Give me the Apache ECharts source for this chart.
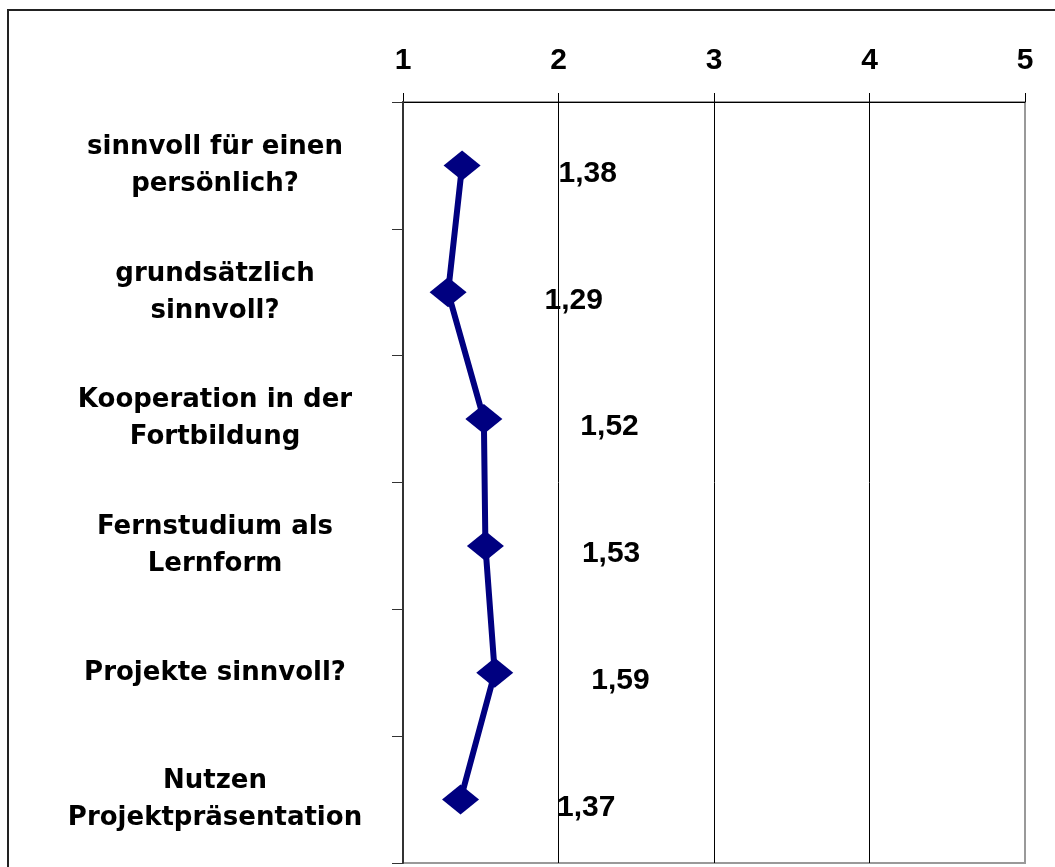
<!DOCTYPE html>
<html>
<head>
<meta charset="utf-8">
<script src="https://cdn.jsdelivr.net/npm/echarts@6/dist/echarts.min.js"></script>
<style>
html,body{margin:0;padding:0;background:#fff;}
#chart{width:1055px;height:867px;}
</style>
</head>
<body>
<div id="chart"></div>
<script>
var categories = [
  'sinnvoll für einen\npersönlich?',
  'grundsätzlich\nsinnvoll?',
  'Kooperation in der\nFortbildung',
  'Fernstudium als\nLernform',
  'Projekte sinnvoll?',
  'Nutzen\nProjektpräsentation'
];
var values = [1.38, 1.29, 1.52, 1.53, 1.59, 1.37];
var scaleTicks = [1, 2, 3, 4, 5];

var chart = echarts.init(document.getElementById('chart'), null, {renderer: 'canvas'});
var option = {
  backgroundColor: '#fff',
  animation: false,
  graphic: [{
    type: 'rect',
    z: -10,
    shape: {x: 8, y: 10, width: 1100, height: 900},
    style: {fill: 'none', stroke: '#222', lineWidth: 2}
  }],
  grid: {
    left: 403, right: 30, top: 102, bottom: 4,
    show: true, borderColor: '#999', borderWidth: 2, backgroundColor: 'transparent'
  },
  xAxis: {
    type: 'value',
    position: 'top',
    min: scaleTicks[0],
    max: scaleTicks[scaleTicks.length - 1],
    interval: 1,
    axisLine: {show: true, lineStyle: {color: '#000', width: 1}},
    axisTick: {show: true, inside: false, length: 9, lineStyle: {color: '#000', width: 1}},
    axisLabel: {
      margin: 26,
      fontFamily: 'Liberation Sans, Arial, sans-serif',
      fontWeight: 'bold',
      fontSize: 30,
      color: '#000',
      formatter: function (v) { return String(v); }
    },
    splitLine: {show: true, lineStyle: {color: ['#000', '#000', '#000', '#000', '#999'], width: 1}}
  },
  yAxis: {
    type: 'category',
    inverse: true,
    data: categories,
    boundaryGap: true,
    z: 5,
    axisLine: {show: true, lineStyle: {color: '#333', width: 2}},
    axisTick: {show: true, inside: false, length: 11, lineStyle: {color: '#333', width: 1}},
    axisLabel: {
      margin: 188,
      align: 'center',
      fontFamily: 'DejaVu Sans, sans-serif',
      fontWeight: 'bold',
      fontSize: 26,
      lineHeight: 37,
      color: '#000'
    },
    splitLine: {show: false}
  },
  series: [{
    type: 'line',
    data: values,
    symbol: 'diamond',
    symbolSize: [37, 30],
    itemStyle: {color: '#000080'},
    lineStyle: {color: '#000080', width: 6},
    z: 10,
    label: {
      show: true,
      position: 'right',
      distance: 78,
      offset: [0, 8],
      fontFamily: 'Liberation Sans, Arial, sans-serif',
      fontWeight: 'bold',
      fontSize: 30,
      color: '#000',
      formatter: function (p) { return p.value.toFixed(2).replace('.', ','); }
    }
  }]
};
chart.setOption(option);
</script>
</body>
</html>
